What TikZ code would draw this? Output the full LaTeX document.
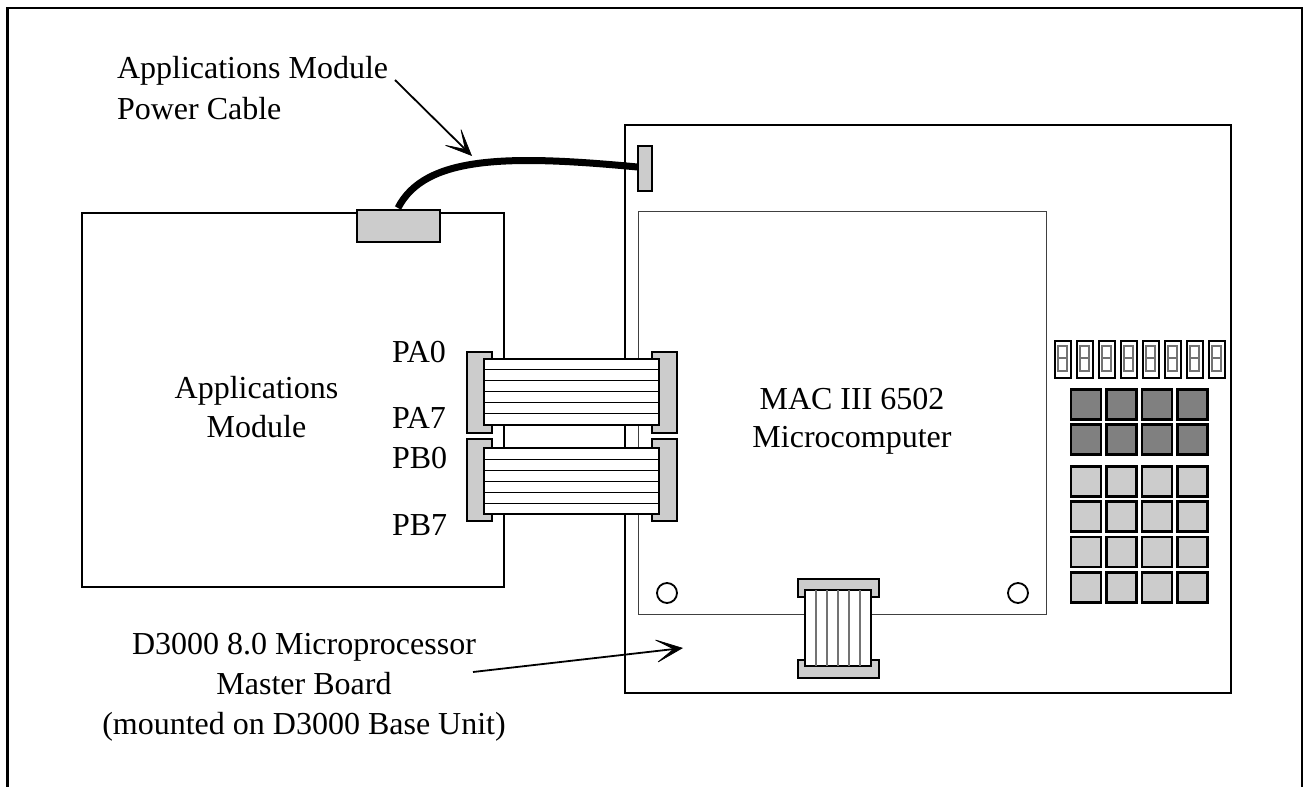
\documentclass[tikz,border=0pt]{standalone}
\usepackage{fontspec}
\setmainfont{Liberation Serif}
\usetikzlibrary{arrows.meta}
\newcommand{\lbl}[1]{\fontsize{32}{#1}\selectfont}
\tikzset{
  x=1pt,y=-1pt,
  every node/.style={inner sep=0pt,outer sep=0pt},
  board/.style={draw,line width=2pt,fill=white,anchor=north west},
  thinboard/.style={draw=black!75,line width=1pt,fill=white,anchor=north west},
  conn/.style={draw,line width=2pt,fill=black!20,anchor=north west},
  ribbon/.style={draw,line width=2.2pt,fill=white,anchor=north west},
  seg/.style={draw,line width=2.2pt,fill=white,minimum width=16pt,minimum height=37pt,anchor=north west},
  darkkey/.style={draw,line width=2.6pt,fill=black!50,minimum width=30pt,minimum height=30pt,anchor=north west},
  lightkey/.style={draw,line width=2.6pt,fill=black!20,minimum width=30pt,minimum height=30pt,anchor=north west},
  txt/.style={align=center,anchor=base},
  pin/.style={font=\lbl{39},anchor=base west},
  pointer/.style={line width=1.8pt,-{Stealth[length=30pt,width=26pt,inset=20pt,line width=0.7pt]}},
  wire/.style={line width=1.1pt},
  hole/.style={draw,circle,line width=1.8pt,minimum size=20pt,fill=white}
}
\begin{document}
\begin{tikzpicture}
\useasboundingbox (0,0) rectangle (1309,787);
% frame
\draw[line width=2.5pt] (7.5,787) -- (7.5,8) -- (1302,8) -- (1302,787);
% boards
\node[board,minimum width=422pt,minimum height=374pt] (appboard) at (82,213) {};
\node[board,minimum width=606pt,minimum height=568pt] (master) at (625,125) {};
\node[thinboard,minimum width=408pt,minimum height=403pt] (mac) at (638.5,211.5) {};
% power connectors and cable
\node[conn,minimum width=83pt,minimum height=32pt] (pwrA) at (356.5,209.5) {};
\node[conn,minimum width=14pt,minimum height=45pt] (pwrB) at (637.5,145.5) {};
\coordinate (cableA) at (398,208);
\coordinate (cableB) at (pwrB.west|-0,167);
\draw[line width=7pt] (cableA) .. controls (425,155) and (510,155) .. (cableB);
% side ribbon connectors
\foreach \n/\y/\h in {a/351.5/81,b/438.5/82}{
  \node[conn,minimum width=25pt,minimum height=\h pt] (cl\n) at (466.5,\y) {};
  \node[conn,minimum width=25pt,minimum height=\h pt] (cr\n) at (651.5,\y) {};
}
\node[ribbon,minimum width=175pt,minimum height=66pt] (ribA) at (484,359) {};
\node[ribbon,minimum width=175pt,minimum height=66pt] (ribB) at (484,448) {};
\foreach \y in {369.5,380.5,391.5,402.5,413.5,459.5,470.5,481.5,492.5,503.5}{
  \draw[wire] (484,\y) -- (659,\y);
}
% bottom connector
\node[conn,minimum width=81pt,minimum height=18pt] (ctop) at (797.5,578.5) {};
\node[conn,minimum width=81pt,minimum height=18pt] (cbot) at (797.5,659.5) {};
\node[ribbon,minimum width=66pt,minimum height=76pt] (ribC) at (805,590) {};
\foreach \x in {816,827,838,849,860}{
  \draw[wire,black!55] (\x,590) -- (\x,666);
}
% holes
\node[hole] (h1) at (667,593) {};
\node[hole] (h2) at (1018,593) {};
% display
\foreach \i in {0,...,7}{
  \pgfmathsetmacro{\xx}{1055+22*\i}
  \node[seg] (d\i) at (\xx,341) {};
  \draw[line width=2pt,black!55] (\xx+3.3,346) rectangle (\xx+11.7,370.5) (\xx+3.3,358) -- (\xx+11.7,358);
}
% keys
\foreach \i in {0,...,3}{
  \pgfmathsetmacro{\xx}{1071+35.4*\i}
  \node[darkkey] (ka\i) at (\xx,389.3) {};
  \node[darkkey] (kb\i) at (\xx,424.7) {};
  \node[lightkey] (kc\i) at (\xx,466.3) {};
  \node[lightkey] (kd\i) at (\xx,501.6) {};
  \node[lightkey] (ke\i) at (\xx,537) {};
  \node[lightkey] (kf\i) at (\xx,572.3) {};
}
% labels
\node[anchor=base west,font=\lbl{39}] (t1) at (117,78) {Applications Module};
\node[anchor=base west,font=\lbl{39}] (t2) at (117,119.5) {Power Cable};
\node[txt,font=\lbl{39}] (t3) at (256.5,437) {Applications\\Module};
\node[pin] (pa0) at (392,362) {PA0};
\node[pin] (pa7) at (392,428) {PA7};
\node[pin] (pb0) at (392,468) {PB0};
\node[pin] (pb7) at (392,535) {PB7};
\node[txt,font=\lbl{38}] (t4) at (852,447) {MAC III 6502\\Microcomputer};
\node[txt,font=\lbl{40}] (t5) at (304,734) {D3000 8.0 Microprocessor\\Master Board\\(mounted on D3000 Base Unit)};
% pointers
\coordinate (p1s) at (395,80);
\coordinate (p1e) at (472,156);
\coordinate (p2s) at (473,672);
\coordinate (p2e) at (683,648);
\draw[pointer] (p1s) -- (p1e);
\draw[pointer] (p2s) -- (p2e);
\end{tikzpicture}
\end{document}
